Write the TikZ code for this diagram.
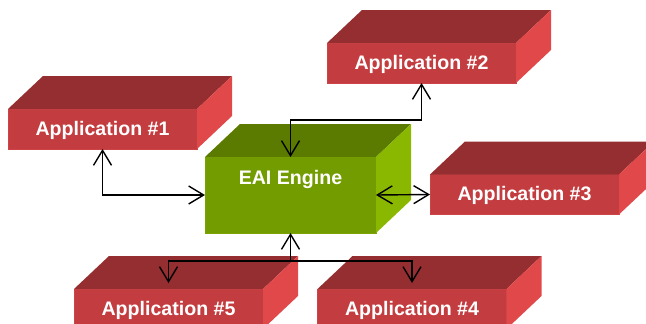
\documentclass[tikz,border=0pt]{standalone}
\usepackage{fontspec}
\setmainfont{Liberation Sans}
\usetikzlibrary{arrows.meta}
\definecolor{appfront}{HTML}{C33C3F}
\definecolor{appedge}{HTML}{CE4346}
\definecolor{apptop}{HTML}{952E30}
\definecolor{appside}{HTML}{E0484A}
\definecolor{eaifront}{HTML}{739C00}
\definecolor{eaiedge}{HTML}{7AA300}
\definecolor{eaitop}{HTML}{5A7A00}
\definecolor{eaiside}{HTML}{8AB800}

\begin{document}
\begin{tikzpicture}[x=1pt,y=-1pt,
  box/.style={fill=appfront,draw=appedge,line width=0.8pt,outer sep=0pt,inner sep=0pt,
    minimum width=189pt,text height=26pt,text depth=14pt,text=white,
    font=\fontsize{19.6}{22}\selectfont\bfseries},
  engine/.style={box,fill=eaifront,draw=eaiedge,minimum width=171pt,text height=27pt,text depth=49pt},
  link/.style={line width=1.4pt,{Straight Barb[length=15pt,width=18pt]}-{Straight Barb[length=15pt,width=18pt]}},
  half/.style={line width=1.4pt,-{Straight Barb[length=15pt,width=18pt]}}]
  \useasboundingbox (0,0) rectangle (646,324);

  \node[box] (app1) at (102.5,129) {Application \#1};
  \node[box] (app2) at (421.5,63) {Application \#2};
  \node[box] (app3) at (524.5,194.5) {Application \#3};
  \node[box] (app4) at (412,309) {Application \#4};
  \node[box] (app5) at (168.5,309) {Application \#5};
  \node[engine] (eai) at (290.5,195) {EAI Engine};

  \foreach \n/\t/\s in {app1/apptop/appside,app2/apptop/appside,app3/apptop/appside,
                        app4/apptop/appside,app5/apptop/appside,eai/eaitop/eaiside}{
    \fill[\t] (\n.north west) -- ++(35,-33) -- ([shift={(35,-33)}]\n.north east) -- (\n.north east) -- cycle;
    \fill[\s] (\n.north east) -- ++(35,-33) -- ([shift={(35,-33)}]\n.south east) -- (\n.south east) -- cycle;
  }

  \draw[link] (app1.south) |- (eai.west);
  \draw[link] (app2.south) -- ++(0,37) -| (eai.north);
  \draw[link] (eai.east) -- (app3.west);
  \coordinate (hub) at ([yshift=-28pt]eai.south);
  \draw[half] (hub) -- (eai.south);
  \draw[half] (hub) -| ([yshift=6pt]app5.north);
  \draw[half] (hub) -| ([yshift=6pt]app4.north);
\end{tikzpicture}
\end{document}
